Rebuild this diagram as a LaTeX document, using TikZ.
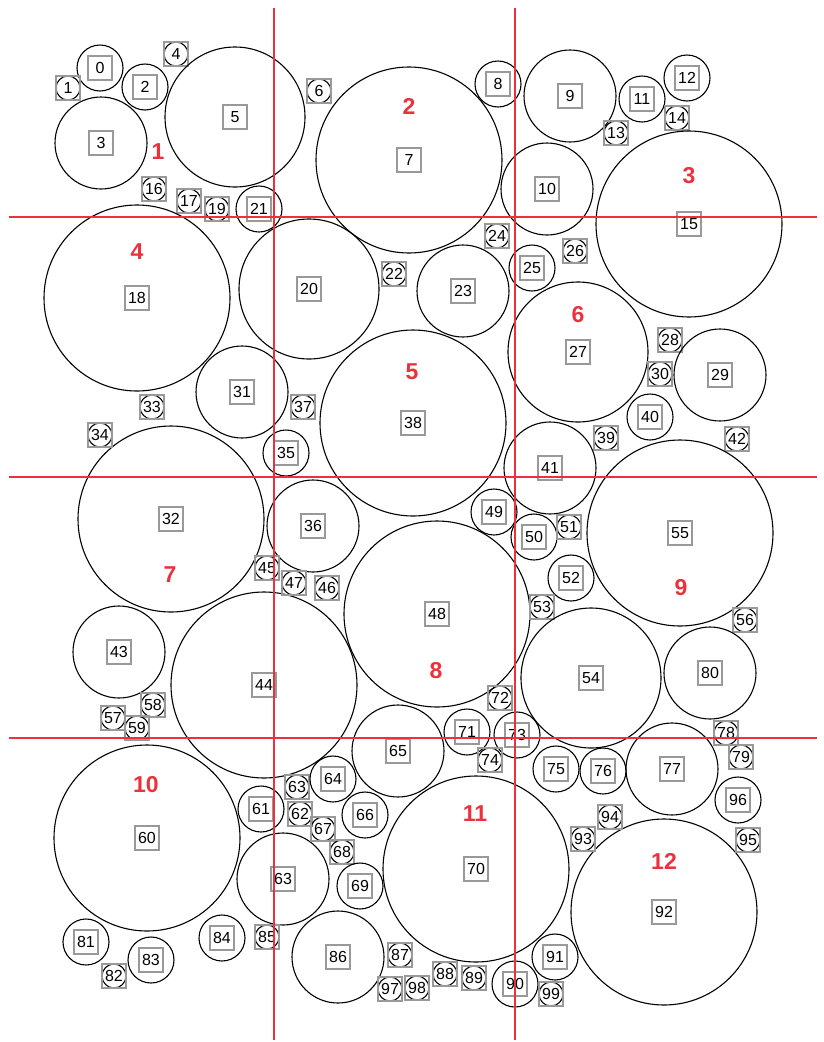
\documentclass[tikz,border=0pt]{standalone}
\usepackage{fontspec}
\setmainfont{Liberation Sans}
\definecolor{zonered}{RGB}{235,50,60}
\begin{document}
\begin{tikzpicture}[
        x=1pt, y=-1pt,
        ball/.style={draw, circle, inner sep=0pt, line width=1.1pt, minimum size=#1},
        tag/.style={draw=black!40, line width=1.1pt, inner sep=0pt, minimum size=24pt,
            font=\fontsize{16}{16}\selectfont},
        zone/.style={text=zonered, font=\fontsize{23}{23}\selectfont\bfseries},
        grid/.style={draw=zonered, line width=1.3pt},
    ]
    \useasboundingbox (0,0) rectangle (823,1042);
    % circles: name/x/y/diameter/label
    \foreach \n/\x/\y/\d/\t in {
        0/100/68/46/0, 1/68/88/24/1, 2/145/87/46/2, 3/101/143/92/3, 4/176/54/24/4,
        5/235/117/140/5, 6/319/91/24/6, 7/409/160/186/7, 8/498/84/46/8, 9/570/96/92/9,
        10/547/189/92/10, 11/642/99/46/11, 12/687/78/46/12, 13/616/133/24/13, 14/677/118/24/14,
        15/689/224/186/15, 16/154/189/24/16, 17/189/201/24/17, 18/137/298/186/18, 19/217/209/24/19,
        20/309/289/140/20, 21/259/209/46/21, 22/394/274/24/22, 23/463/291/92/23, 24/497/236/24/24,
        25/532/268/46/25, 26/575/251/24/26, 27/578/352/140/27, 28/670/340/24/28, 29/720/375/92/29,
        30/660/374/24/30, 31/242/392/92/31, 32/171/519/186/32, 33/152/407/24/33, 34/100/435/24/34,
        35/286/453/46/35, 36/313/526/92/36, 37/303/407/24/37, 38/413/423/186/38, 39/606/438/24/39,
        40/650/417/46/40, 41/550/468/92/41, 42/737/439/24/42, 43/119/652/92/43, 44/264/685/186/44,
        45/267/568/24/45, 46/327/588/24/46, 47/294/583/24/47, 48/437/614/186/48, 49/494/512/46/49,
        50/534/537/46/50, 51/569/527/24/51, 52/571/578/46/52, 53/542/607/24/53, 54/591/678/140/54,
        55/680/533/186/55, 56/745/620/24/56, 57/113/718/24/57, 58/153/705/24/58, 59/137/728/24/59,
        60/147/838/186/60, 61/261/809/46/61, 62/300/814/24/62, 63/297/787/24/63, 63b/283/879/92/63,
        64/333/779/46/64, 65/398/751/92/65, 66/365/815/46/66, 67/323/829/24/67, 68/342/852/24/68,
        69/360/886/46/69, 70/476/869/186/70, 71/467/732/46/71, 72/500/698/24/72, 73/517/735/46/73,
        74/490/760/24/74, 75/556/769/46/75, 76/603/771/46/76, 77/672/769/92/77, 78/726/733/24/78,
        79/741/757/24/79, 80/710/673/92/80, 81/86/942/46/81, 82/114/976/24/82, 83/151/960/46/83,
        84/222/938/46/84, 85/267/937/24/85, 86/338/957/92/86, 87/400/955/24/87, 88/445/974/24/88,
        89/474/978/24/89, 90/515/984/46/90, 91/555/957/46/91, 92/664/912/186/92, 93/583/839/24/93,
        94/610/817/24/94, 95/748/840/24/95, 96/738/800/46/96, 97/390/989/24/97, 98/417/988/24/98,
        99/551/994/24/99}{
        \node[ball=\d pt] (b\n) at (\x,\y) {};
        \node[tag] (t\n) at (b\n) {\t};
    }
    % zone numbers
    \foreach \z/\x/\y in {1/158/152, 2/409/106, 3/689/176, 4/137/252, 5/412/372, 6/578/315,
        7/170/575, 8/436/671, 9/681/588, 10/146/785, 11/475/814, 12/664/861}
        \node[zone] (z\z) at (\x,\y) {\z};
    % grid lines
    \coordinate (v1top) at (274,8);
    \coordinate (v1bot) at (274,1040);
    \coordinate (v2top) at (515,8);
    \coordinate (v2bot) at (515,1040);
    \coordinate (h1l) at (9,217);
    \coordinate (h1r) at (817,217);
    \coordinate (h2l) at (9,477);
    \coordinate (h2r) at (817,477);
    \coordinate (h3l) at (9,738);
    \coordinate (h3r) at (817,738);
    \draw[grid] (v1top) -- (v1bot);
    \draw[grid] (v2top) -- (v2bot);
    \draw[grid] (h1l) -- (h1r);
    \draw[grid] (h2l) -- (h2r);
    \draw[grid] (h3l) -- (h3r);
\end{tikzpicture}
\end{document}
